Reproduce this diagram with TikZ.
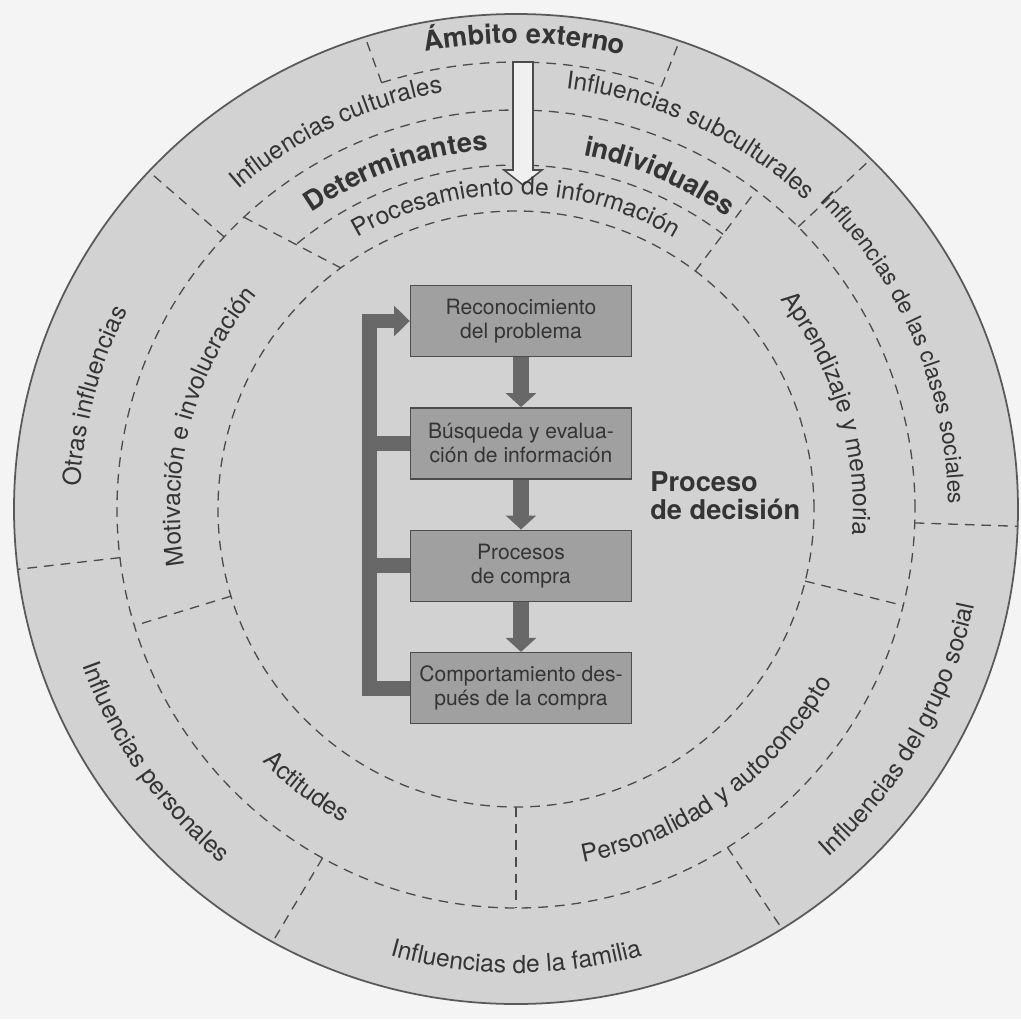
\documentclass[tikz,border=0pt]{standalone}
\usepackage{fontspec}
\setmainfont{TeX Gyre Heros}
\usetikzlibrary{positioning,calc}
\usetikzlibrary{arrows.meta,decorations.text}
\definecolor{PageGray}{RGB}{244,244,244}
\definecolor{DiscGray}{RGB}{210,210,210}
\definecolor{StageGray}{RGB}{160,160,160}
\definecolor{BarGray}{RGB}{104,104,104}
\definecolor{InkGray}{RGB}{52,52,52}
\newcommand\lblfont{\fontsize{14}{16}\selectfont}
\newcommand\lblsmall{\fontsize{13}{15}\selectfont}
\newcommand\lblbold{\fontsize{15.5}{16}\selectfont\bfseries}
\tikzset{
	ring/.style={draw=black!70,line width=0.75pt,dash pattern=on 5.5pt off 4pt},
	divider/.style={ring},
	stage/.style={draw=black!70,fill=StageGray,line width=0.8pt,minimum width=4.42cm,
		minimum height=1.42cm,align=center,inner sep=2pt,text=InkGray,
		font=\fontsize{12}{13.6}\selectfont},
	flow/.style={draw=BarGray,line width=9pt,-{Triangle[width=17pt,length=8pt]}},
	back/.style={draw=BarGray,line width=8.5pt},
	arclabel/.style={decorate,decoration={text along path,text align=center,
		text color=InkGray,text={#1}}},
}

\begin{document}
\begin{tikzpicture}[x=0.02cm,y=0.02cm]
	\useasboundingbox (-516,-510) rectangle (505,509);
	\fill[PageGray] (-516,-510) rectangle (505,509);
	\filldraw[fill=DiscGray,draw=black!65,line width=1pt] (0,0) ellipse[x radius=502,y radius=495];
	% dashed rings and dividers
	\draw[ring] (0,0) circle[radius=399];
	\draw[ring] (0,0) circle[radius=298];
	\draw[ring] (107.5:447) arc[start angle=107.5,end angle=71,radius=447];
	\draw[ring] (129.5:344) arc[start angle=129.5,end angle=53,radius=344];
	\foreach \a in {137,45,358,302,241,187}
	\draw[divider] (\a:399) -- (\a:502 and 495);
	\foreach \a in {107.5,71}
	\draw[divider] (\a:447) -- (\a:502 and 495);
	\foreach \a in {53,346,270,197}
	\draw[divider] (\a:298) -- (\a:399);
	\draw[divider] (133:399) -- (126:298);
	% hollow arrow
	\filldraw[draw=black!70,fill=black!6,line width=0.9pt]
	(-3,447) -- (17,447) -- (17,339) -- (26,339) -- (7,324) -- (-12,339) -- (-3,339) -- cycle;
	% outer labels
	\path[arclabel={|\lblbold|Ámbito externo}] (124:466) arc[start angle=124,end angle=54,radius=466];
	\path[arclabel={|\lblfont|Influencias culturales}] (155.5:423) arc[start angle=155.5,end angle=75.5,radius=423];
	\path[arclabel={|\lblfont|Influencias subculturales}] (105:423) arc[start angle=105,end angle=25,radius=423];
	\path[arclabel={|\lblsmall|Influencias de las clases sociales}] (63:432) arc[start angle=63,end angle=-17,radius=432];
	\path[arclabel={|\lblfont|Otras influencias}] (205:436) arc[start angle=205,end angle=125,radius=436];
	\path[arclabel={|\lblfont|Influencias del grupo social}] (290:468) arc[start angle=290,end angle=370,radius=468];
	\path[arclabel={|\lblfont|Influencias de la familia}] (230:464) arc[start angle=230,end angle=310,radius=464];
	\path[arclabel={|\lblfont|Influencias personales}] (175:461) arc[start angle=175,end angle=255,radius=461];
	% individual labels
	\path[arclabel={|\lblbold|Determinantes}] (149.5:360) arc[start angle=149.5,end angle=69.5,radius=360];
	\path[arclabel={|\lblbold|individuales}] (106.7:360) arc[start angle=106.7,end angle=26.7,radius=360];
	\path[arclabel={|\lblfont|Procesamiento de información}] (135:314) arc[start angle=135,end angle=45,radius=314];
	\path[arclabel={|\lblfont|Motivación e involucración}] (205:336) arc[start angle=205,end angle=125,radius=336];
	\path[arclabel={|\lblfont|Aprendizaje y memoria}] (57:337) arc[start angle=57,end angle=-23,radius=337];
	\path[arclabel={|\lblfont|Personalidad y autoconcepto}] (266:360) arc[start angle=266,end angle=346,radius=360];
	\path[arclabel={|\lblfont|Actitudes}] (193:358) arc[start angle=193,end angle=273,radius=358];
	% decision process
	\node[stage] (b1) at (5,188) {Reconocimiento\\del problema};
	\node[stage,below=1cm of b1] (b2) {Búsqueda y evalua-\\ción de información};
	\node[stage,below=1cm of b2] (b3) {Procesos\\de compra};
	\node[stage,below=1cm of b3] (b4) {Comportamiento des-\\pués de la compra};
	\node[anchor=west,align=left,inner sep=0pt,text=InkGray,font=\lblbold] (dec) at (134,13) {Proceso\\de decisión};
	\draw[flow] (b1) -- (b2);
	\draw[flow] (b2) -- (b3);
	\draw[flow] (b3) -- (b4);
	\draw[back] (b2.west) -- ++(-40,0);
	\draw[back] (b3.west) -- ++(-40,0);
	\draw[back,-{Triangle[width=17pt,length=9pt]}] (b4.west) -- ++(-40,0) |- (b1.west);
\end{tikzpicture}
\end{document}
